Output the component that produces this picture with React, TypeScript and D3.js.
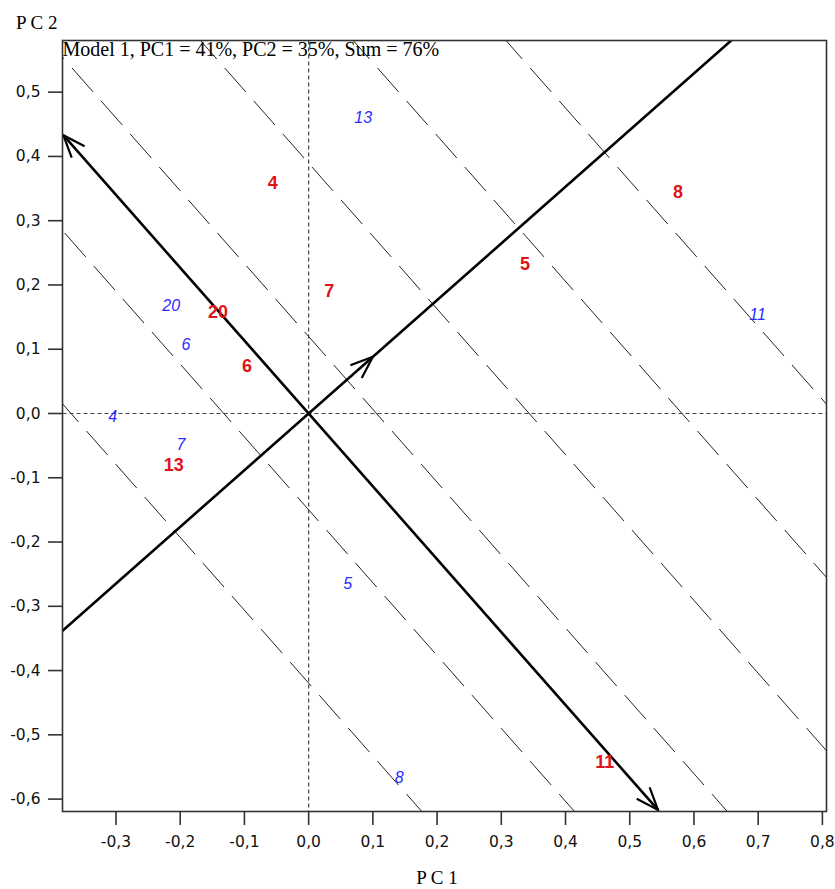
import React from "react";
import * as d3 from "d3";

// Axis ticks
const xTicks = [-0.3, -0.2, -0.1, 0.0, 0.1, 0.2, 0.3, 0.4, 0.5, 0.6, 0.7, 0.8];
const yTicks = [0.5, 0.4, 0.3, 0.2, 0.1, 0.0, -0.1, -0.2, -0.3, -0.4, -0.5, -0.6];

// Environment labels (red, bold)
const envNames = ["4", "8", "5", "7", "20", "6", "13", "11"];
const envPC1 = [-0.056, 0.575, 0.337, 0.032, -0.141, -0.096, -0.21, 0.461];
const envPC2 = [0.359, 0.345, 0.233, 0.191, 0.158, 0.074, -0.08, -0.543];

// Genotype labels (blue, italic)
const genNames = ["13", "11", "20", "6", "4", "7", "5", "8"];
const genPC1 = [0.085, 0.699, -0.214, -0.191, -0.305, -0.199, 0.061, 0.141];
const genPC2 = [0.46, 0.154, 0.168, 0.108, -0.005, -0.049, -0.265, -0.567];

// Average-environment axis slope and the PC1 positions (at PC2 = 0) of the
// dashed lines drawn perpendicular to it
const aecSlope = 0.882;
const rankIntercepts = [-0.37, -0.1322, 0.1057, 0.3435, 0.5814, 0.8192];
const aecArrowAt = 0.1;
const ordinateEnds = [-0.382, 0.544];

const fmt = (v: number) => (Math.abs(v) < 1e-9 ? "0,0" : v.toFixed(1).replace(".", ","));

function arrowHead(tip: [number, number], from: [number, number], len = 24, ang = 21) {
  const dx = from[0] - tip[0];
  const dy = from[1] - tip[1];
  const base = Math.atan2(dy, dx);
  const a = (ang * Math.PI) / 180;
  const p1: [number, number] = [tip[0] + len * Math.cos(base + a), tip[1] + len * Math.sin(base + a)];
  const p2: [number, number] = [tip[0] + len * Math.cos(base - a), tip[1] + len * Math.sin(base - a)];
  return `M${p1[0]},${p1[1]}L${tip[0]},${tip[1]}L${p2[0]},${p2[1]}`;
}

export default function App() {
  const W = 835;
  const H = 889;
  const left = 62.5;
  const right = 826.5;
  const top = 40.5;
  const bottom = 811.5;

  const x = d3.scaleLinear().domain([-0.3833, 0.8064]).range([left, right]);
  const y = d3.scaleLinear().domain([0.5804, -0.6193]).range([top, bottom]);

  const line = d3
    .line<[number, number]>()
    .x((d) => x(d[0]))
    .y((d) => y(d[1]));

  const perp = -1 / aecSlope;

  // AEC abscissa through the origin
  const aecPath = line([
    [-2, -2 * aecSlope],
    [2, 2 * aecSlope],
  ]);
  const aecTip: [number, number] = [x(aecArrowAt), y(aecArrowAt * aecSlope)];
  const aecBack: [number, number] = [x(0), y(0)];

  // AEC ordinate with arrows on both ends
  const ordA: [number, number] = [ordinateEnds[0], ordinateEnds[0] * perp];
  const ordB: [number, number] = [ordinateEnds[1], ordinateEnds[1] * perp];
  const ordPath = line([ordA, ordB]);
  const ordApx: [number, number] = [x(ordA[0]), y(ordA[1])];
  const ordBpx: [number, number] = [x(ordB[0]), y(ordB[1])];
  const origin: [number, number] = [x(0), y(0)];

  const serif = "'Liberation Serif', 'Times New Roman', serif";
  const sans = "'DejaVu Sans', Verdana, sans-serif";
  const labelFont = "'Liberation Sans', Arial, sans-serif";

  return (
    <svg
      width={W}
      height={H}
      style={{ position: "absolute", left: 0, top: 0, background: "#fff" }}
    >
      <defs>
        <clipPath id="plot-area">
          <rect x={left} y={top} width={right - left} height={bottom - top} />
        </clipPath>
      </defs>
      <rect x={0} y={0} width={W} height={H} fill="#fff" />

      <g clipPath="url(#plot-area)">
        {/* dashed lines perpendicular to the AEC */}
        {rankIntercepts.map((c, i) => (
          <path
            key={`r${i}`}
            d={line([
              [c + 1 / perp, 1],
              [c - 1 / perp, -1],
            ]) as string}
            fill="none"
            stroke="#222"
            strokeWidth={1}
            strokeDasharray="32 12"
          />
        ))}

        {/* zero reference lines */}
        <line x1={x(0)} x2={x(0)} y1={top} y2={bottom} stroke="#444" strokeWidth={1.2} strokeDasharray="4 3" />
        <line x1={left} x2={right} y1={y(0)} y2={y(0)} stroke="#444" strokeWidth={1.2} strokeDasharray="4 3" />

        {/* AEC abscissa and ordinate */}
        <path d={aecPath as string} fill="none" stroke="#000" strokeWidth={2.6} />
        <path d={arrowHead(aecTip, aecBack)} fill="none" stroke="#000" strokeWidth={2.2} />
        <path d={ordPath as string} fill="none" stroke="#000" strokeWidth={2.6} />
        <path d={arrowHead(ordApx, origin)} fill="none" stroke="#000" strokeWidth={2.2} />
        <path d={arrowHead(ordBpx, origin)} fill="none" stroke="#000" strokeWidth={2.2} />
      </g>

      {/* genotype labels */}
      {genNames.map((n, i) => (
        <text
          key={`g${i}`}
          x={x(genPC1[i])}
          y={y(genPC2[i])}
          textAnchor="middle"
          dominantBaseline="central"
          fontFamily={labelFont}
          fontStyle="italic"
          fontSize={16}
          fill="#2b2bff"
        >
          {n}
        </text>
      ))}

      {/* environment labels */}
      {envNames.map((n, i) => (
        <text
          key={`e${i}`}
          x={x(envPC1[i])}
          y={y(envPC2[i])}
          textAnchor="middle"
          dominantBaseline="central"
          fontFamily={labelFont}
          fontWeight="bold"
          fontSize={18}
          fill="#dd1418"
        >
          {n}
        </text>
      ))}

      {/* frame */}
      <rect x={left} y={top} width={right - left} height={bottom - top} fill="none" stroke="#333" strokeWidth={1.6} />

      {/* y axis */}
      {yTicks.map((t) => (
        <g key={`yt${t}`}>
          <line x1={left - 14.5} x2={left} y1={y(t)} y2={y(t)} stroke="#333" strokeWidth={1.6} />
          <text
            x={left - 22}
            y={y(t)}
            textAnchor="end"
            dominantBaseline="central"
            fontFamily={sans}
            fontSize={15.5}
            fill="#111"
          >
            {fmt(t)}
          </text>
        </g>
      ))}

      {/* x axis */}
      {xTicks.map((t) => (
        <g key={`xt${t}`}>
          <line x1={x(t)} x2={x(t)} y1={bottom} y2={bottom + 13.5} stroke="#333" strokeWidth={1.6} />
          <text
            x={x(t)}
            y={bottom + 30}
            textAnchor="middle"
            dominantBaseline="central"
            fontFamily={sans}
            fontSize={15.5}
            fill="#111"
          >
            {fmt(t)}
          </text>
        </g>
      ))}

      {/* titles */}
      <text x={left} y={56} fontFamily={serif} fontSize={20} fill="#000">
        Model 1, PC1 = 41%, PC2 = 35%, Sum = 76%
      </text>
      <text x={16} y={29} fontFamily={serif} fontSize={19} fill="#000">
        P C 2
      </text>
      <text x={437} y={884} textAnchor="middle" fontFamily={serif} fontSize={19} fill="#000">
        P C 1
      </text>
    </svg>
  );
}
